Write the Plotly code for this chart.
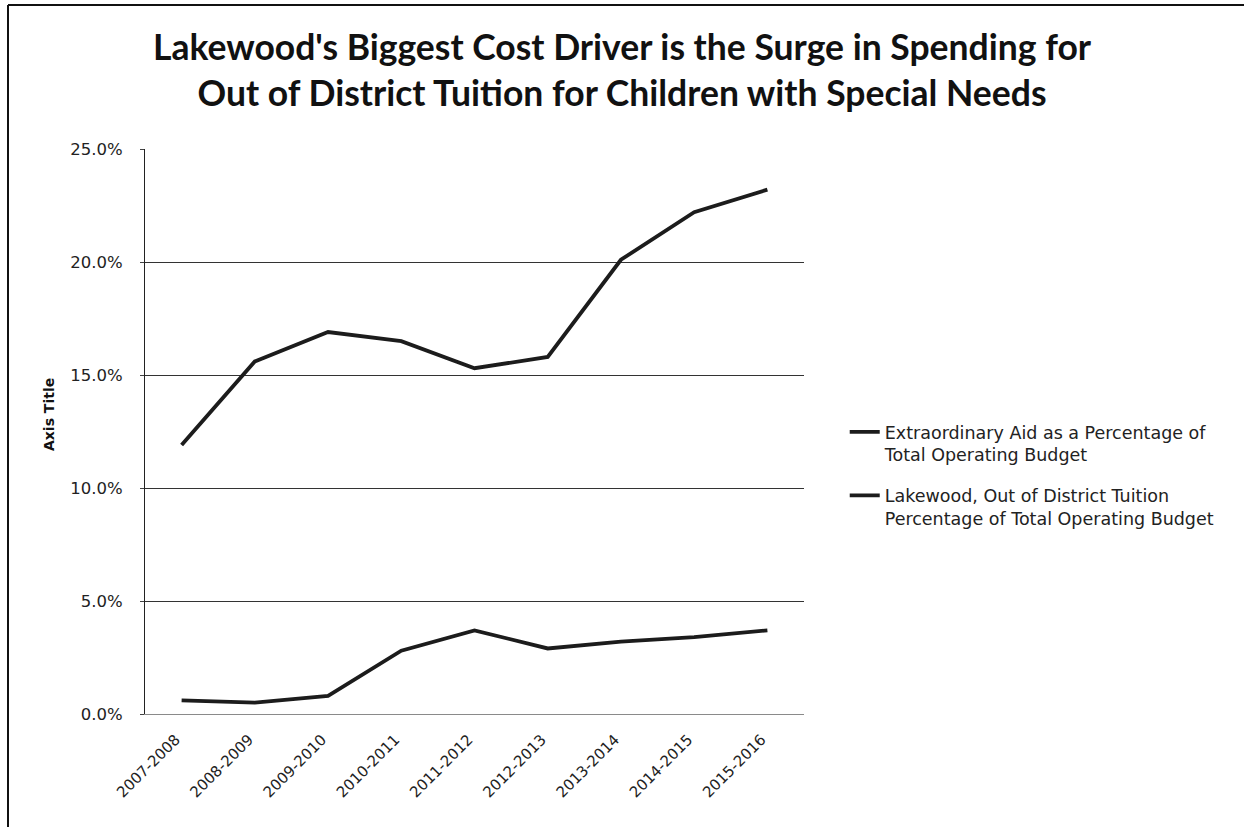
import plotly.graph_objects as go

# School years on the category axis
years = ["2007-2008", "2008-2009", "2009-2010", "2010-2011", "2011-2012",
         "2012-2013", "2013-2014", "2014-2015", "2015-2016"]

# Percent of total operating budget
extraordinary_aid = [11.9, 15.6, 16.9, 16.5, 15.3, 15.8, 20.1, 22.2, 23.2]
out_of_district_tuition = [0.6, 0.5, 0.8, 2.8, 3.7, 2.9, 3.2, 3.4, 3.7]

series_names = [
    "Extraordinary Aid as a Percentage of<br>Total Operating Budget",
    "Lakewood, Out of District Tuition<br>Percentage of Total Operating Budget",
]

y_ticks = [0, 5, 10, 15, 20, 25]
y_tick_labels = [f"{v:.1f}%" for v in y_ticks]

W, H = 1244, 827
L, R, T, B = 145, 440, 149, 113
plot_w, plot_h = W - L - R, H - T - B

LINE_COLOR = "#1c1c1c"

fig = go.Figure()
for i, (name, vals) in enumerate(zip(series_names, [extraordinary_aid, out_of_district_tuition])):
    fig.add_trace(go.Scatter(
        x=years, y=vals, name=name, mode="lines",
        legendgroup=f"g{i}",
        line=dict(color=LINE_COLOR, width=3.8),
    ))

fig.update_layout(
    width=W, height=H,
    margin=dict(l=L, r=R, t=T, b=B),
    paper_bgcolor="white",
    plot_bgcolor="white",
    showlegend=True,
    legend=dict(
        x=(850 - L) / plot_w - 0.008, xanchor="left",
        y=(714 - 414) / plot_h, yanchor="top",
        font=dict(family="DejaVu Sans", size=17.5, color="#222"),
        valign="top",
        traceorder="grouped",
        tracegroupgap=15,
        bgcolor="rgba(0,0,0,0)",
    ),
    font=dict(family="DejaVu Sans", color="#222"),
)

fig.update_xaxes(
    type="category",
    range=[-0.5, len(years) - 0.5],
    tickangle=-45,
    tickfont=dict(family="DejaVu Sans", size=15, color="#222"),
    showgrid=False,
    showline=True, linecolor="#8a8a8a", linewidth=1,
    ticks="", ticklabelstandoff=10, ticklabelshift=-6,
)

fig.update_yaxes(
    range=[0, 25],
    tickvals=y_ticks,
    ticktext=y_tick_labels,
    tickfont=dict(family="DejaVu Sans", size=16.5, color="#222"),
    showgrid=True, gridcolor="#333333", gridwidth=1.3,
    zeroline=False,
    showline=True, linecolor="#222", linewidth=1.2,
    ticks="outside", ticklen=4, tickcolor="#444",
    ticklabelstandoff=14,
)

# Two-line chart heading
fig.add_annotation(
    text="<b>Lakewood's Biggest Cost Driver is the Surge in Spending for<br>"
         "Out of District Tuition for Children with Special Needs</b>",
    xref="paper", yref="paper",
    x=(622 - L) / plot_w, y=(714 - 70) / plot_h,
    xanchor="center", yanchor="middle", align="center",
    showarrow=False,
    font=dict(family="Lato", size=35.5, color="#111"),
)

# Vertical axis caption
fig.add_annotation(
    text="<b>Axis Title</b>", textangle=-90,
    xref="paper", yref="paper",
    x=(49 - L) / plot_w, y=(714 - 415) / plot_h,
    xanchor="center", yanchor="middle",
    showarrow=False,
    font=dict(family="DejaVu Sans", size=14, color="#111"),
)

# Chart frame (left and top edges)
fig.add_shape(type="line", xref="paper", yref="paper",
              x0=(8 - L) / plot_w, x1=(8 - L) / plot_w,
              y0=-0.5, y1=(714 - 5) / plot_h,
              line=dict(color="#111", width=2))
fig.add_shape(type="line", xref="paper", yref="paper",
              x0=(8 - L) / plot_w, x1=2.0,
              y0=(714 - 5) / plot_h, y1=(714 - 5) / plot_h,
              line=dict(color="#111", width=2))

fig.write_html("out.html")
